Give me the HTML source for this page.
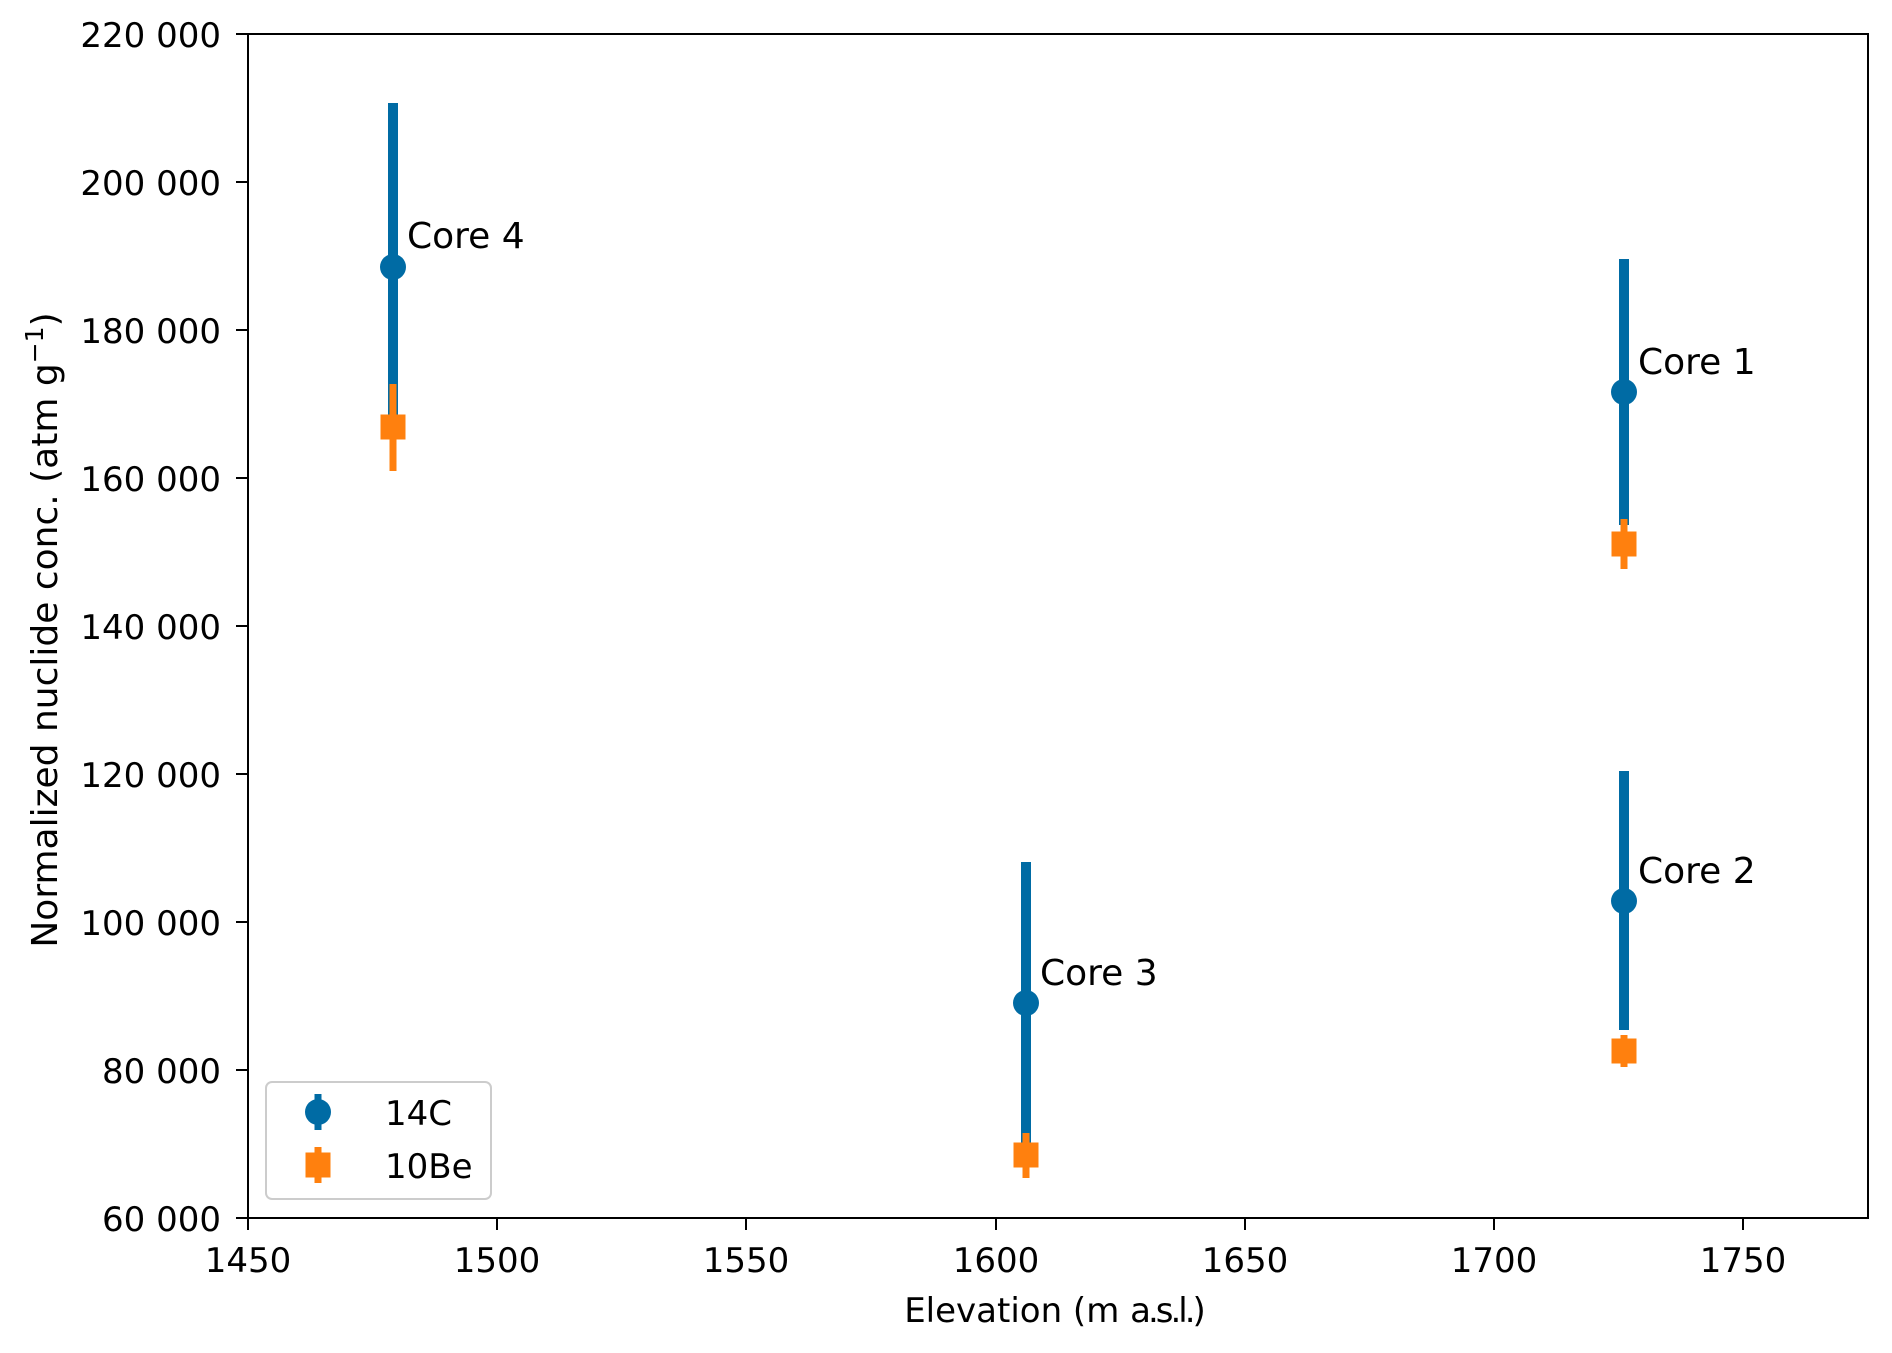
<!DOCTYPE html>
<html><head><meta charset="utf-8"><style>html,body{margin:0;padding:0;background:#fff}</style></head><body>
<svg width="1892" height="1348" xmlns="http://www.w3.org/2000/svg" font-family="DejaVu Sans, Liberation Sans, sans-serif" font-size="34">
<rect width="1892" height="1348" fill="#fff"/>
<g>
<line x1="393" y1="103" x2="393" y2="415" stroke="#006BA4" stroke-width="10"/>
<circle cx="393" cy="267" r="13" fill="#006BA4"/>
<line x1="393" y1="384" x2="393" y2="471" stroke="#FF800E" stroke-width="7"/>
<rect x="380.5" y="414.5" width="25" height="25" fill="#FF800E"/>
<line x1="1624" y1="259" x2="1624" y2="525" stroke="#006BA4" stroke-width="10"/>
<circle cx="1624" cy="392" r="13" fill="#006BA4"/>
<line x1="1624" y1="519" x2="1624" y2="569" stroke="#FF800E" stroke-width="7"/>
<rect x="1611.5" y="531.5" width="25" height="25" fill="#FF800E"/>
<line x1="1624" y1="771" x2="1624" y2="1030" stroke="#006BA4" stroke-width="10"/>
<circle cx="1624" cy="901" r="13" fill="#006BA4"/>
<line x1="1624" y1="1035" x2="1624" y2="1067" stroke="#FF800E" stroke-width="7"/>
<rect x="1611.5" y="1038.5" width="25" height="25" fill="#FF800E"/>
<line x1="1026" y1="862" x2="1026" y2="1143" stroke="#006BA4" stroke-width="10"/>
<circle cx="1026" cy="1003" r="13" fill="#006BA4"/>
<line x1="1026" y1="1133" x2="1026" y2="1178" stroke="#FF800E" stroke-width="7"/>
<rect x="1013.5" y="1142.5" width="25" height="25" fill="#FF800E"/>
</g>
<g fill="#000" font-size="36">
<text x="407" y="248">Core 4</text>
<text x="1638" y="374">Core 1</text>
<text x="1638" y="883">Core 2</text>
<text x="1040" y="985">Core 3</text>
</g>
<rect x="248" y="34" width="1620" height="1184" fill="none" stroke="#000" stroke-width="2"/>
<g stroke="#000" stroke-width="2">
<line x1="236" y1="34" x2="248" y2="34"/>
<line x1="236" y1="182" x2="248" y2="182"/>
<line x1="236" y1="330" x2="248" y2="330"/>
<line x1="236" y1="478" x2="248" y2="478"/>
<line x1="236" y1="626" x2="248" y2="626"/>
<line x1="236" y1="774" x2="248" y2="774"/>
<line x1="236" y1="922" x2="248" y2="922"/>
<line x1="236" y1="1070" x2="248" y2="1070"/>
<line x1="236" y1="1218" x2="248" y2="1218"/>
</g>
<g text-anchor="end">
<text x="221" y="47">220 000</text>
<text x="221" y="195">200 000</text>
<text x="221" y="343">180 000</text>
<text x="221" y="491">160 000</text>
<text x="221" y="639">140 000</text>
<text x="221" y="787">120 000</text>
<text x="221" y="935">100 000</text>
<text x="221" y="1083">80 000</text>
<text x="221" y="1231">60 000</text>
</g>
<g stroke="#000" stroke-width="2">
<line x1="248" y1="1218" x2="248" y2="1230"/>
<line x1="497" y1="1218" x2="497" y2="1230"/>
<line x1="746" y1="1218" x2="746" y2="1230"/>
<line x1="996" y1="1218" x2="996" y2="1230"/>
<line x1="1245" y1="1218" x2="1245" y2="1230"/>
<line x1="1494" y1="1218" x2="1494" y2="1230"/>
<line x1="1743" y1="1218" x2="1743" y2="1230"/>
</g>
<g text-anchor="middle">
<text x="248" y="1272">1450</text>
<text x="497" y="1272">1500</text>
<text x="746" y="1272">1550</text>
<text x="996" y="1272">1600</text>
<text x="1245" y="1272">1650</text>
<text x="1494" y="1272">1700</text>
<text x="1743" y="1272">1750</text>
<text x="1055" y="1322" font-size="34">Elevation (m <tspan letter-spacing="-3">a.s.l.</tspan>)</text>
<text transform="translate(57,630) rotate(-90)" font-size="36">Normalized nuclide conc. (atm g<tspan font-size="25" dy="-14">−1</tspan><tspan dy="14">)</tspan></text>
</g>
<rect x="266" y="1082" width="225" height="117" rx="6" fill="#fff" fill-opacity="0.8" stroke="#cccccc" stroke-width="2"/>
<line x1="318" y1="1094" x2="318" y2="1130" stroke="#006BA4" stroke-width="7"/>
<circle cx="318" cy="1112" r="13" fill="#006BA4"/>
<line x1="318" y1="1147" x2="318" y2="1183" stroke="#FF800E" stroke-width="7"/>
<rect x="305.5" y="1152.5" width="25" height="25" fill="#FF800E"/>
<text x="385" y="1125">14C</text>
<text x="385" y="1178">10Be</text>
</svg>
</body></html>
